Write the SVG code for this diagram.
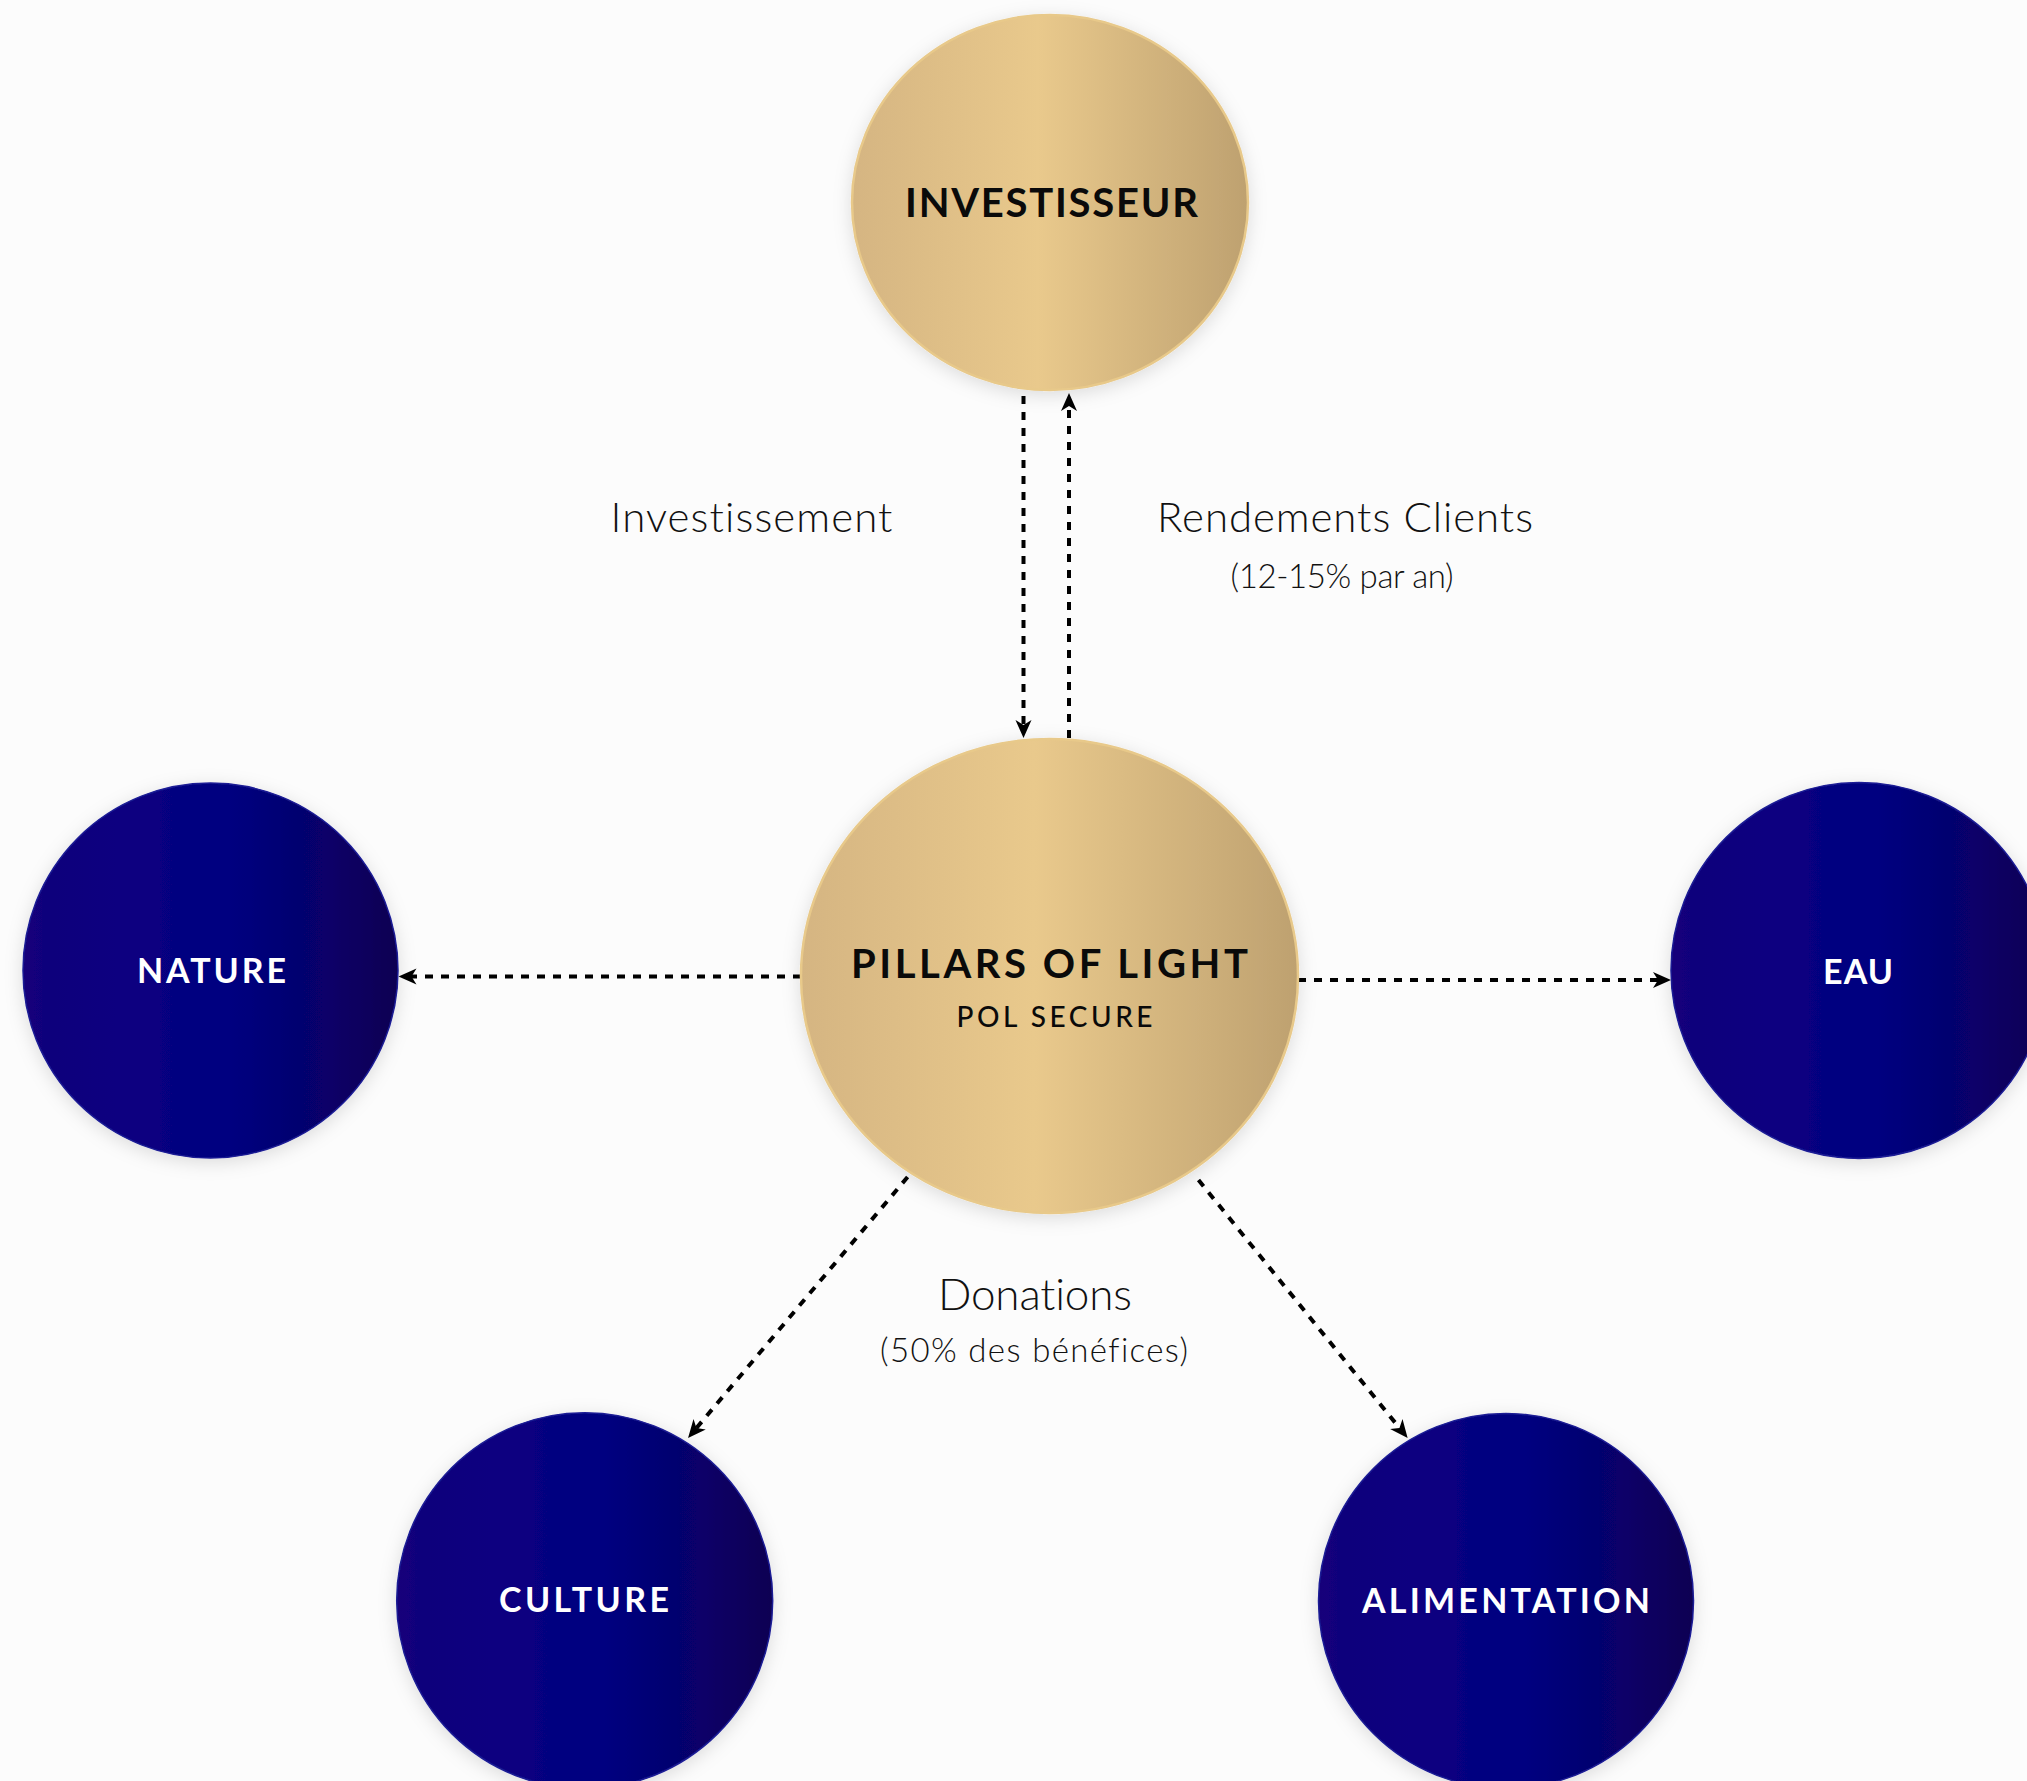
<svg xmlns="http://www.w3.org/2000/svg" width="2027" height="1781" viewBox="0 0 2027 1781">
  <defs>
    <linearGradient id="gold" x1="0" y1="0" x2="1" y2="0">
      <stop offset="0" stop-color="#d5b582"/>
      <stop offset="0.47" stop-color="#e9c98c"/>
      <stop offset="1" stop-color="#bea170"/>
    </linearGradient>
    <linearGradient id="blue" x1="0" y1="0" x2="1" y2="0">
      <stop offset="0" stop-color="#13047a"/>
      <stop offset="0.25" stop-color="#0a0580"/>
      <stop offset="0.55" stop-color="#020680"/>
      <stop offset="0.8" stop-color="#07046a"/>
      <stop offset="1" stop-color="#0b0252"/>
    </linearGradient>
    <filter id="shadow" x="-20%" y="-20%" width="140%" height="140%">
      <feDropShadow dx="0" dy="4" stdDeviation="9" flood-color="#000" flood-opacity="0.13"/>
    </filter>
    <marker id="arrow" markerUnits="userSpaceOnUse" viewBox="-11 -10 20 20" refX="0" refY="0" markerWidth="20" markerHeight="20" orient="auto">
      <path d="M8,0 L-10,-8 L-5,0 L-10,8 Z" fill="#000"/>
    </marker>
  </defs>
  <style>
    .gold { fill: url(#gold); stroke: #e8c98a; stroke-width: 2.5; filter: url(#shadow); }
    .blue { fill: url(#blue); stroke: #1b1b95; stroke-width: 1.5; filter: url(#shadow); }
    .title { font-family: "Lato", "Liberation Sans", sans-serif; font-weight: 700; text-anchor: middle; }
    .dark { fill: #0a0a0a; }
    .light { fill: #ffffff; }
    .label { font-family: "Lato", "Liberation Sans", sans-serif; font-weight: 300; fill: #111; text-anchor: middle; font-variant-ligatures: none; font-feature-settings: "liga" 0, "dlig" 0, "clig" 0; }
    .conn { stroke: #000; stroke-width: 4; stroke-dasharray: 8 8; fill: none; marker-end: url(#arrow); }
  </style>
  <rect x="0" y="0" width="2027" height="1781" fill="#fcfcfc"/>

  <g id="connectors">
    <line class="conn" x1="1023.5" y1="396" x2="1023.5" y2="730"/>
    <line class="conn" x1="1069" y1="738" x2="1069" y2="401"/>
    <line class="conn" x1="801" y1="976.5" x2="406.5" y2="976.5"/>
    <line class="conn" x1="1298" y1="980" x2="1663" y2="980"/>
    <line class="conn" x1="907.6" y1="1177" x2="693.2" y2="1431.9"/>
    <line class="conn" x1="1198.5" y1="1180" x2="1402.6" y2="1431.8"/>
  </g>

  <g id="labels">
    <text class="label" x="751.5" y="532" font-size="42" textLength="282">Investissement</text>
    <text class="label" x="1345" y="532" font-size="42" textLength="376">Rendements Clients</text>
    <text class="label" x="1342" y="588" font-size="33" textLength="223">(12-15% par an)</text>
    <text class="label" x="1035" y="1310" font-size="44" textLength="194">Donations</text>
    <text class="label" x="1034" y="1362" font-size="33" textLength="308">(50% des bénéfices)</text>
  </g>

  <g id="investisseur">
    <ellipse class="gold" cx="1050" cy="202.5" rx="198" ry="187.5"/>
    <text class="title dark" x="1051.5" y="217" font-size="40" textLength="293">INVESTISSEUR</text>
  </g>

  <g id="pillars">
    <ellipse class="gold" cx="1049.5" cy="976" rx="248.5" ry="237"/>
    <text class="title dark" x="1049.5" y="978" font-size="40" textLength="397">PILLARS OF LIGHT</text>
    <text class="title dark" x="1054.5" y="1027" font-size="28" style="font-weight:500" textLength="196">POL SECURE</text>
  </g>

  <g id="nature">
    <circle class="blue" cx="210.5" cy="970.5" r="187.5"/>
    <text class="title light" x="211.5" y="983" font-size="34" textLength="149">NATURE</text>
  </g>

  <g id="eau">
    <circle class="blue" cx="1859" cy="970.5" r="188"/>
    <text class="title light" x="1858" y="984" font-size="34" textLength="70">EAU</text>
  </g>

  <g id="culture">
    <circle class="blue" cx="584.7" cy="1600.7" r="188"/>
    <text class="title light" x="584" y="1612" font-size="34" textLength="170">CULTURE</text>
  </g>

  <g id="alimentation">
    <circle class="blue" cx="1506" cy="1601" r="187.5"/>
    <text class="title light" x="1506" y="1613" font-size="34" textLength="288">ALIMENTATION</text>
  </g>
</svg>
